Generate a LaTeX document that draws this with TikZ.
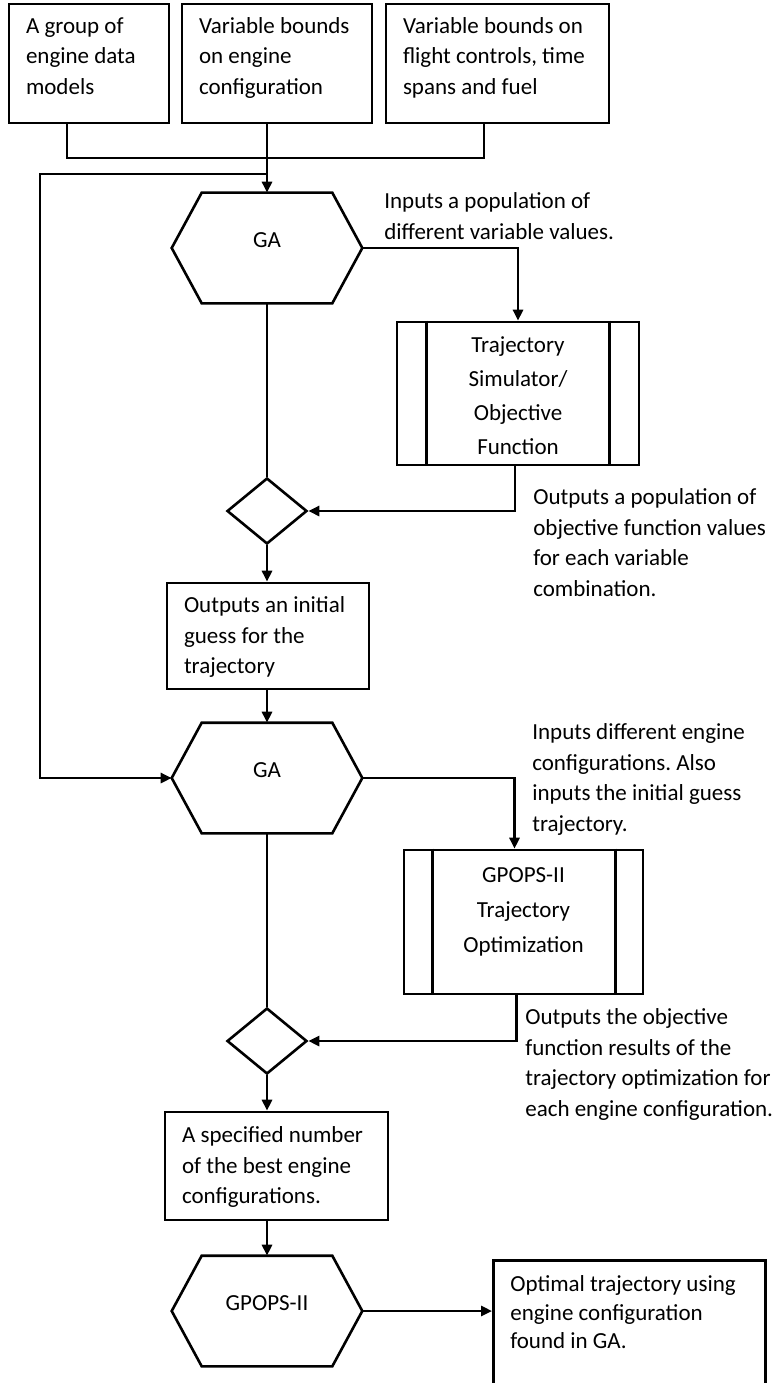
\documentclass[tikz,border=0pt]{standalone}
\usepackage{fontspec}
\setmainfont{Carlito}
\frenchspacing
\usetikzlibrary{arrows.meta,positioning,shapes.geometric}

\begin{document}
\begin{tikzpicture}[x=1pt, y=-1pt, >={Triangle[length=11pt,width=10pt]},
  font=\fontsize{23pt}{30.5pt}\selectfont, line width=2.6pt,
  infobox/.style={draw, inner xsep=17pt, inner ysep=0pt},
  gabox/.style={minimum width=188pt, minimum height=108pt, inner sep=0pt},
  procbox/.style={draw, inner sep=0pt},
  check/.style={draw, diamond, minimum width=80pt, minimum height=66pt, inner sep=0pt},
  note/.style={anchor=north west, align=left, inner sep=0pt}]
  \useasboundingbox (0,0) rectangle (772,1383);

  % inputs
  \node[infobox] (data) at (89,63.5)
    {\parbox[c][119pt][t]{126pt}{\raggedright\rule{0pt}{29.5pt}A group of\\engine data\\models}};
  \node[infobox] (bounds) at (277,63.5)
    {\parbox[c][119pt][t]{156pt}{\raggedright\rule{0pt}{29.5pt}Variable bounds\\on engine\\configuration}};
  \node[infobox] (ctrl) at (497.5,63.5)
    {\parbox[c][119pt][t]{189pt}{\raggedright\rule{0pt}{29.5pt}Variable bounds on\\flight controls, time\\spans and fuel}};
  \coordinate (merge) at (267,158);
  \coordinate (split) at (267,174);
  \coordinate (back) at (40,174);

  % first GA loop
  \node[gabox] (ga1) at (267,248) {\raisebox{16pt}{GA}};
  \node[procbox, minimum width=242pt, minimum height=143pt] (sim) at (518,393.5)
    {\parbox[c][143pt][t]{150pt}{\centering\fontsize{23pt}{34pt}\selectfont
      \rule{0pt}{30.5pt}Trajectory\\Simulator/\\Objective\\Function}};
  \node[check] (chk1) at (267,511) {};
  \node[infobox] (guess) at (268,636)
    {\parbox[c][106pt][t]{168pt}{\raggedright\rule{0pt}{29.5pt}Outputs an initial\\guess for the\\trajectory}};

  % second GA loop
  \node[gabox] (ga2) at (267,778) {\raisebox{16pt}{GA}};
  \node[procbox, minimum width=239pt, minimum height=144pt] (opt) at (523.5,922)
    {\parbox[c][144pt][t]{150pt}{\centering\fontsize{23pt}{35pt}\selectfont
      \rule{0pt}{32.5pt}GPOPS-II\\Trajectory\\Optimization}};
  \node[check] (chk2) at (267,1041) {};
  \node[infobox] (best) at (276.5,1166)
    {\parbox[c][108pt][t]{189pt}{\raggedright\rule{0pt}{30.5pt}A specified number\\of the best engine\\configurations.}};

  % final run
  \node[gabox] (gp) at (267,1311) {\raisebox{16pt}{GPOPS-II}};
  \node[infobox, anchor=north west] (result) at (492,1259)
    {\parbox[c][150pt][t]{238pt}{\raggedright\fontsize{23pt}{28.5pt}\selectfont
      \rule{0pt}{31.5pt}Optimal trajectory using\\engine configuration\\found in GA.}};

  % side notes
  \node[note] (n1) at (383,191.5) {Inputs a population of\\different variable values.};
  \node[note] (n2) at (532,487.5)
    {Outputs a population of\\objective function values\\for each variable\\combination.};
  \node[note] (n3) at (531,722.5)
    {Inputs different engine\\configurations. Also\\inputs the initial guess\\trajectory.};
  \node[note] (n4) at (524,1007.5)
    {Outputs the objective\\function results of the\\trajectory optimization for\\each engine configuration.};

  % hexagon outlines
  \foreach \h in {ga1,ga2,gp}
    \draw ([xshift=30pt]\h.north west) -- ([xshift=-30pt]\h.north east) -- (\h.east)
      -- ([xshift=-30pt]\h.south east) -- ([xshift=30pt]\h.south west) -- (\h.west) -- cycle;

  % bars of the predefined processes
  \draw ([xshift=31pt]sim.north west) -- ([xshift=31pt]sim.south west);
  \draw ([xshift=-31pt]sim.north east) -- ([xshift=-31pt]sim.south east);
  \draw ([xshift=30pt]opt.north west) -- ([xshift=30pt]opt.south west);
  \draw ([xshift=-29pt]opt.north east) -- ([xshift=-29pt]opt.south east);

  % connectors
  \draw ([xshift=-22pt]data.south) |- (merge) -| ([xshift=-13.5pt]ctrl.south);
  \draw[->] (bounds.south -| ga1.north) -- (ga1.north);
  \draw[->] (split) -- (back) |- (ga2.west);
  \draw[->] (ga1.east) -| (sim.north);
  \draw (ga1.south) -- (chk1.north);
  \draw[->] ([xshift=-3pt]sim.south) |- (chk1.east);
  \draw[->] (chk1.south) -- (chk1.south |- guess.north);
  \draw[->] (guess.south -| ga2.north) -- (ga2.north);
  \draw[->] (ga2.east) -| ([xshift=-9pt]opt.north);
  \draw (ga2.south) -- (chk2.north);
  \draw[->] ([xshift=-7pt]opt.south) |- (chk2.east);
  \draw[->] (chk2.south) -- (chk2.south |- best.north);
  \draw[->] (best.south -| gp.north) -- (gp.north);
  \draw[->] (gp.east) -- (gp.east -| result.west);
\end{tikzpicture}
\end{document}
